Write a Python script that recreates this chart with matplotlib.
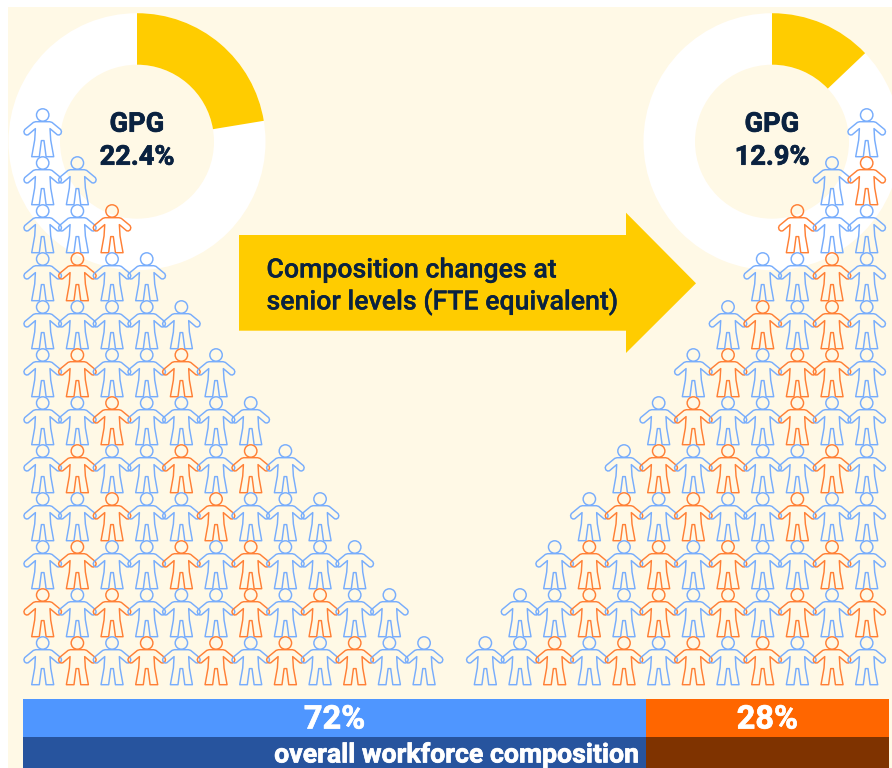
import matplotlib
matplotlib.use("Agg")
import matplotlib.pyplot as plt
import matplotlib.patheffects as pe
from matplotlib.patches import Circle, Polygon, Rectangle, Wedge

plt.rcParams['font.family'] = ['Roboto', 'DejaVu Sans']

# gender pay gap shown in the two rings
gpg_before = 22.4
gpg_after = 12.9

# overall workforce split
share_men = 72
share_women = 28

# one string per row of people, top to bottom. B = blue, O = orange
rows_left = ["B", "BB", "BBO", "BOBB", "BBBBB", "BOBBOB", "BBOBBBB", "BOBBOBOB",
             "BBOBBOBBB", "BOBBOBOBBB", "OBOBBBOBOBB", "BOBOBOBOBOBB"]
rows_right = ["B", "BO", "OBB", "BBOB", "BOBOB", "BOBOOB", "BOBBOBB", "BOBOBBOB",
              "BOBOBBOBB", "BOBOBOBBOB", "BBOBOBOBOBO", "BBOBOBOBOBOB"]

CREAM = "#FFF9E6"
YELLOW = "#FFCC00"
NAVY = "#0A2240"
BLUE = "#4F96FF"
DARK_BLUE = "#27549E"
ORANGE = "#FF6600"
BROWN = "#7F3300"
colors = {"B": "#78ADFC", "O": "#FF8036"}

# right half of the person outline, relative to centre of the head (px)
half_body = [(0, 6.7), (7, 6.7), (9.3, 7.4), (18, 14.6), (18.8, 16.6), (18.2, 18.8), (16.4, 20),
             (14.6, 19.8), (7.3, 13.6), (8, 25), (11, 41.7), (3.4, 41.7), (1.3, 25.6), (0, 25.6)]
body = half_body + [(-x, y) for x, y in half_body[::-1][1:-1]]


def heavy(color, w):
    # the bold weight comes out a bit lighter than the original, thicken it
    return [pe.withStroke(linewidth=w, foreground=color)]


def person(ax, cx, cy, color):
    pts = [(cx + x, cy + y) for x, y in body]
    ax.add_patch(Polygon(pts, closed=True, fill=False, ec=color, lw=1.05, joinstyle="round", zorder=3))
    ax.add_patch(Circle((cx, cy), 6.2, fill=False, ec=color, lw=1.05, zorder=3))


def ring(ax, cx, cy, value):
    ax.add_patch(Wedge((cx, cy), 128.5, 0, 360, width=51.5, fc="white", ec="none", zorder=1))
    # y axis is inverted so -90 is the top and angles run clockwise
    ax.add_patch(Wedge((cx, cy), 128.5, -90, -90 + value * 3.6, width=51.5, fc=YELLOW, ec="none", zorder=2))
    ax.text(cx, cy - 17.5, "GPG", ha="center", va="center", fontsize=19.6, fontweight="bold", color=NAVY, zorder=4,
            path_effects=heavy(NAVY, 0.5))
    ax.text(cx, cy + 15.5, "%.1f%%" % value, ha="center", va="center", fontsize=19.6, fontweight="bold",
            color=NAVY, zorder=4, path_effects=heavy(NAVY, 0.5))


fig = plt.figure(figsize=(8.92, 7.68), dpi=100)
ax = fig.add_axes([0, 0, 1, 1])
ax.set_xlim(0, 892)
ax.set_ylim(768, 0)
ax.axis("off")

ax.add_patch(Rectangle((8, 7), 884, 761, fc=CREAM, ec="none", zorder=0))

ring(ax, 137, 141.7, gpg_before)
ring(ax, 772, 141.7, gpg_after)

# people pyramids
pitch_x = 34.67
pitch_y = 48
for r, row in enumerate(rows_left):
    for c, kind in enumerate(row):
        person(ax, 42.7 + c * pitch_x, 115 + r * pitch_y, colors[kind])
for r, row in enumerate(rows_right):
    n = len(row)
    for c, kind in enumerate(row):
        person(ax, 866.7 - (n - 1 - c) * pitch_x, 115 + r * pitch_y, colors[kind])

# arrow in the middle
arrow = [(239, 235), (626, 235), (626, 212.7), (696, 283.3), (626, 353), (626, 330.7), (239, 330.7)]
ax.add_patch(Polygon(arrow, closed=True, fc=YELLOW, ec="none", zorder=2))
ax.text(266.5, 277.5, "Composition changes at", ha="left", va="baseline", fontsize=19.2, fontweight=500,
        color=NAVY, zorder=4, path_effects=heavy(NAVY, 0.2))
ax.text(266.5, 309.5, "senior levels (FTE equivalent)", ha="left", va="baseline", fontsize=19.2, fontweight=500,
        color=NAVY, zorder=4, path_effects=heavy(NAVY, 0.2))

# stacked bars at the bottom
bar_x = 23
bar_w = 865.5
w_men = bar_w * share_men / (share_men + share_women)
w_women = bar_w * share_women / (share_men + share_women)
ax.add_patch(Rectangle((bar_x, 699), w_men, 38, fc=BLUE, ec="none"))
ax.add_patch(Rectangle((bar_x + w_men, 699), w_women, 38, fc=ORANGE, ec="none"))
ax.add_patch(Rectangle((bar_x, 737), w_men, 31, fc=DARK_BLUE, ec="none"))
ax.add_patch(Rectangle((bar_x + w_men, 737), w_women, 31, fc=BROWN, ec="none"))
ax.text(bar_x + w_men / 2, 719.5, "%d%%" % share_men, ha="center", va="center", fontsize=23.4, fontweight="bold",
        color="white", path_effects=heavy("white", 0.5))
ax.text(bar_x + w_men + w_women / 2, 719.5, "%d%%" % share_women, ha="center", va="center", fontsize=23.4,
        fontweight="bold", color="white", path_effects=heavy("white", 0.5))
ax.text(bar_x + w_men - 8, 755, "overall workforce composition", ha="right", va="center", fontsize=19.2,
        fontweight="bold", color="white", path_effects=heavy("white", 0.5))

fig.savefig("out.png", dpi=100, facecolor="white")
